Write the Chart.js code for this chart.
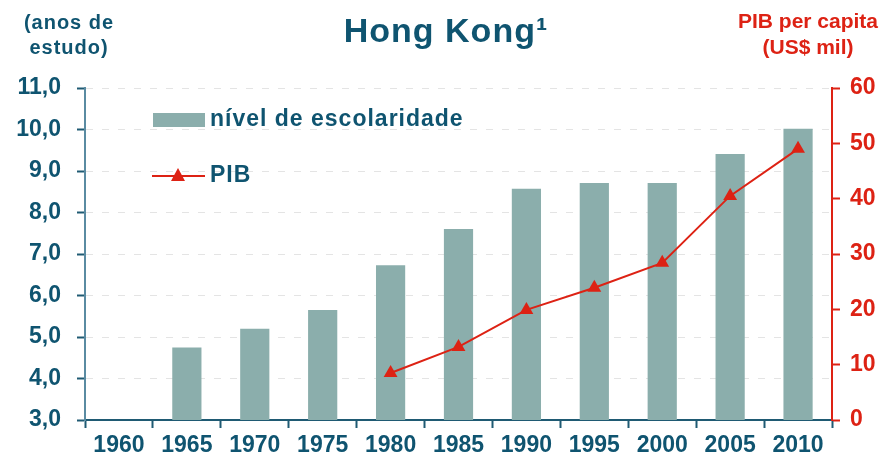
<!DOCTYPE html>
<html lang="pt">
<head>
  <meta charset="UTF-8">
  <title>Hong Kong</title>
  <script src="https://cdn.jsdelivr.net/npm/chart.js"></script>
  <style>
    html, body { margin: 0; padding: 0; background: #fff; }
    #wrap { width: 889px; height: 464px; }
  </style>
</head>
<body>
<div id="wrap"><canvas id="chart" width="889" height="464"></canvas></div>

<script>
  // data
  const years = ['1960', '1965', '1970', '1975', '1980', '1985', '1990', '1995', '2000', '2005', '2010'];
  const schooling = [null, 4.75, 5.2, 5.65, 6.73, 7.6, 8.57, 8.71, 8.71, 9.41, 10.02];
  const gdp = [null, null, null, null, 8.5, 13.2, 19.9, 23.9, 28.4, 40.5, 49.0];

  const teal = '#0F5470';
  const red = '#DD2214';
  const barColor = '#8BAEAC';
  const font = "'Liberation Sans', Arial, sans-serif";

  const decorations = {
    id: 'decorations',
    afterDraw(chart) {
      const ctx = chart.ctx;
      ctx.save();
      ctx.textBaseline = 'middle';

      // title
      ctx.fillStyle = teal;
      ctx.font = 'bold 34px ' + font;
      ctx.textAlign = 'center';
      ctx.letterSpacing = '1px';
      ctx.fillText('Hong Kong\u00B9', 446, 33);

      // axis titles
      ctx.font = 'bold 20px ' + font;
      ctx.letterSpacing = '1px';
      ctx.fillText('(anos de', 69, 23);
      ctx.fillText('estudo)', 69, 48);
      ctx.fillStyle = red;
      ctx.font = 'bold 21px ' + font;
      ctx.letterSpacing = '0px';
      ctx.fillText('PIB per capita', 808, 22);
      ctx.fillText('(US$ mil)', 808, 48);

      // legend
      ctx.fillStyle = barColor;
      ctx.fillRect(153, 113, 52, 14);
      ctx.strokeStyle = red;
      ctx.lineWidth = 2;
      ctx.beginPath();
      ctx.moveTo(152, 176);
      ctx.lineTo(205, 176);
      ctx.stroke();
      ctx.fillStyle = red;
      ctx.beginPath();
      ctx.moveTo(178, 168);
      ctx.lineTo(185, 181);
      ctx.lineTo(171, 181);
      ctx.closePath();
      ctx.fill();

      ctx.fillStyle = teal;
      ctx.textAlign = 'left';
      ctx.font = 'bold 23px ' + font;
      ctx.letterSpacing = '1px';
      ctx.fillText('n\u00EDvel de escolaridade', 210, 120);
      ctx.fillText('PIB', 210, 176);
      ctx.restore();
    }
  };

  new Chart(document.getElementById('chart'), {
    data: {
      labels: years,
      datasets: [
        {
          type: 'line',
          label: 'PIB',
          data: gdp,
          yAxisID: 'y1',
          borderColor: red,
          backgroundColor: red,
          borderWidth: 2,
          pointStyle: 'triangle',
          pointRadius: 8,
          pointBorderWidth: 0,
          tension: 0,
          order: 0
        },
        {
          type: 'bar',
          label: 'nível de escolaridade',
          data: schooling,
          yAxisID: 'y',
          backgroundColor: barColor,
          barPercentage: 0.43,
          categoryPercentage: 1,
          order: 1
        }
      ]
    },
    options: {
      responsive: false,
      animation: false,
      layout: { padding: { top: 88, left: 0, right: 0, bottom: 0 } },
      plugins: { legend: { display: false }, tooltip: { enabled: false } },
      scales: {
        x: {
          offset: true,
          afterFit: s => { s.height = 44; },
          grid: { offset: true, drawOnChartArea: false, tickLength: 8, tickColor: '#1F5A73', tickWidth: 2 },
          border: { color: '#1F5A73', width: 2 },
          ticks: { color: teal, font: { family: font, size: 23, weight: 'bold' }, padding: 4, maxRotation: 0 }
        },
        y: {
          position: 'left',
          min: 3,
          max: 11,
          afterFit: s => { s.width = 85; },
          grid: { color: '#e4e4e4', lineWidth: 1, tickLength: 8, tickColor: '#1F5A73', tickWidth: 2 },
          border: { color: '#5A8BA2', width: 2, dash: [7, 9] },
          ticks: {
            stepSize: 1,
            color: teal,
            padding: 16,
            font: { family: font, size: 23, weight: 'bold' },
            callback: v => v.toFixed(1).replace('.', ',')
          }
        },
        y1: {
          position: 'right',
          min: 0,
          max: 60,
          afterFit: s => { s.width = 57; },
          grid: { drawOnChartArea: false, tickLength: 8, color: red, tickWidth: 2 },
          border: { color: red, width: 2 },
          ticks: { stepSize: 10, color: red, padding: 10, font: { family: font, size: 23, weight: 'bold' } }
        }
      }
    },
    plugins: [decorations]
  });
</script>
</body>
</html>
